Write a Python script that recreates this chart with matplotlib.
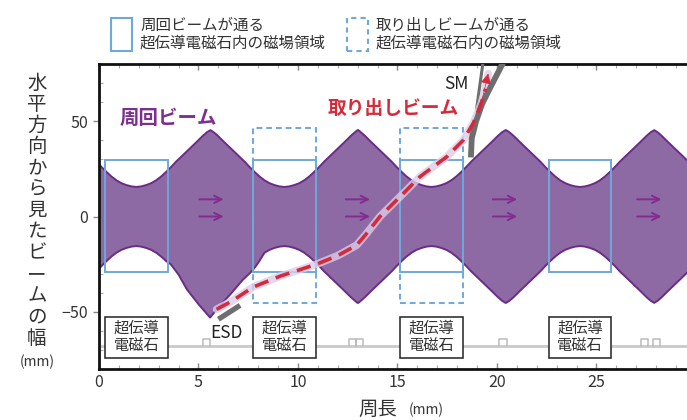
import numpy as np
import matplotlib
matplotlib.use('Agg')
import matplotlib.pyplot as plt
from matplotlib.patches import Rectangle
from matplotlib.ticker import MultipleLocator

plt.rcParams['font.family'] = ['Noto Sans CJK JP', 'DejaVu Sans']

# superconducting magnets along the circumference
magnet_left = [0.30, 7.74, 15.13, 22.60]
magnet_width = 3.15
field_span = [-29.0, 29.5]          # circulating beam field region
extract_span = [-45.6, 46.3]        # extraction beam field region
extract_magnets = [1, 2]
magnet_label_span = [-74.0, -52.5]

# circulating beam half-width vs distance from magnet centre
profile_d = [0.0, 0.25, 0.5, 0.75, 1.0, 1.25, 1.5, 1.75, 2.0, 2.5, 3.0, 3.35, 3.55, 3.72]
profile_hw = [15.5, 15.8, 16.5, 17.5, 19.0, 21.0, 23.4, 26.0, 28.8, 33.8, 38.8, 42.4, 44.2, 45.3]
cell_centres = [1.875, 9.315, 16.705, 24.175, 31.62]

# lower edge of the circulating beam next to the ESD
esd_edge_x = [3.6, 4.0, 4.42, 5.0, 5.58, 6.1, 6.67, 7.2, 7.6, 7.85, 8.05]
esd_edge_y = [-25.0, -30.5, -38.3, -46.0, -53.0, -46.5, -40.0, -33.5, -29.5, -26.5, -23.5]

# extracted beam trajectory
extract_x = [5.91, 6.67, 7.75, 9.10, 10.94, 12.00, 12.95, 13.40, 14.12, 15.13,
             16.13, 17.47, 18.30, 18.81, 19.20, 19.42, 19.56]
extract_y = [-48.7, -44.4, -37.0, -31.3, -25.0, -20.5, -15.0, -9.5, 0.0, 10.4,
             20.9, 31.3, 40.0, 49.0, 59.0, 67.0, 75.0]

# septum magnet walls and electrostatic deflector
sm_outer_x = [18.69, 18.73, 18.95, 19.25, 19.63, 20.15, 20.32]
sm_outer_y = [31.0, 41.0, 50.0, 59.0, 67.0, 77.5, 81.0]
sm_inner_x = [18.97, 19.10, 19.30]
sm_inner_y = [56.0, 66.0, 81.0]
esd_x = [6.0, 7.09]
esd_y = [-53.9, -46.6]

# direction arrows
arrow_start = [4.90, 12.26, 19.65, 26.90]
arrow_len = 1.5
arrow_levels = [9.0, 0.0]

# beamline sketch in the background
beamline_y = -68.0
beamline_bumps = [5.4, 12.75, 13.1, 20.3, 27.4, 28.0]

purple_fill = '#8e6aa4'
purple_edge = '#6a2c86'
blue = '#6fa8dc'
red = '#d62a3a'
grey = '#6e6e6e'
text_col = '#333333'

fig = plt.figure(figsize=(6.87, 4.2), dpi=100)
ax = fig.add_axes([0.1441, 0.1214, 0.869, 0.7262])
ax.set_xlim(0, 30)
ax.set_ylim(-80, 80)

# background beamline
ax.axhline(beamline_y, color='#cdc9c9', lw=2, zorder=1)
for b in beamline_bumps:
    ax.plot([b - 0.18, b - 0.18, b + 0.18, b + 0.18],
            [beamline_y, beamline_y + 3.5, beamline_y + 3.5, beamline_y],
            color='#bdb9b9', lw=1.1, zorder=1)

# circulating beam envelope
env_x, env_hw = [], []
for c in cell_centres:
    for d, h in zip(profile_d[::-1], profile_hw[::-1]):
        env_x.append(c - d)
        env_hw.append(h)
    for d, h in zip(profile_d[1:], profile_hw[1:]):
        env_x.append(c + d)
        env_hw.append(h)
env_x = np.array(env_x)
env_hw = np.array(env_hw)
order = np.argsort(env_x, kind='stable')
env_x, env_hw = env_x[order], env_hw[order]

upper_x, upper_y = env_x, env_hw
keep = (env_x < esd_edge_x[0] - 0.1) | (env_x > esd_edge_x[-1] + 0.1)
lower_x = np.concatenate([env_x[keep], esd_edge_x])
lower_y = np.concatenate([-env_hw[keep], esd_edge_y])
order = np.argsort(lower_x, kind='stable')
lower_x, lower_y = lower_x[order], lower_y[order]

ax.fill(np.r_[upper_x, lower_x[::-1]], np.r_[upper_y, lower_y[::-1]],
        color=purple_fill, lw=0, zorder=2)
ax.plot(upper_x, upper_y, color=purple_edge, lw=1.4, zorder=2.5)
ax.plot(lower_x, lower_y, color=purple_edge, lw=1.4, zorder=2.5)

# magnet field regions
for i, left in enumerate(magnet_left):
    ax.add_patch(Rectangle((left, field_span[0]), magnet_width, field_span[1] - field_span[0],
                           fill=False, ec=blue, lw=1.4, zorder=3))
    if i in extract_magnets:
        ax.add_patch(Rectangle((left, extract_span[0]), magnet_width,
                               extract_span[1] - extract_span[0],
                               fill=False, ec=blue, lw=1.4, ls=(0, (3, 2)), zorder=3))
    ax.add_patch(Rectangle((left, magnet_label_span[0]), magnet_width,
                           magnet_label_span[1] - magnet_label_span[0],
                           fc='white', ec='#222222', lw=1.1, zorder=4))
    ax.text(left + magnet_width / 2, sum(magnet_label_span) / 2, '超伝導\n電磁石',
            ha='center', va='center', fontsize=11, color=text_col,
            linespacing=1.05, zorder=5)

# beam direction arrows
for xs in arrow_start:
    for lv in arrow_levels:
        ax.annotate('', xy=(xs + arrow_len, lv), xytext=(xs, lv),
                    arrowprops=dict(arrowstyle='->', color='#822c8c', lw=1.4,
                                    mutation_scale=13), zorder=4)

# extracted beam
ax.plot(extract_x, extract_y, color='#dccdea', lw=5.5, alpha=0.8,
        solid_capstyle='round', zorder=6)
ax.plot(extract_x[:-1], extract_y[:-1], color=red, lw=2.6, dashes=(4, 2.2), zorder=7)
ax.annotate('', xy=(extract_x[-1], extract_y[-1]), xytext=(extract_x[-3], extract_y[-3]),
            arrowprops=dict(arrowstyle='-|>', color=red, lw=0.5, mutation_scale=16,
                            shrinkA=0, shrinkB=0), zorder=7)

# septum and deflector
ax.plot(sm_outer_x, sm_outer_y, color=grey, lw=4.2, solid_capstyle='butt', zorder=6)
ax.plot(sm_inner_x, sm_inner_y, color=grey, lw=2.2, solid_capstyle='butt', zorder=5.5)
ax.plot(esd_x, esd_y, color=grey, lw=3.8, solid_capstyle='butt', zorder=6)

ax.text(3.49, 51.3, '周回ビーム', color='#7b2f8e', fontsize=14, fontweight='bold',
        ha='center', va='center', zorder=8)
ax.text(14.77, 56.6, '取り出しビーム', color=red, fontsize=13.5, fontweight='bold',
        ha='center', va='center', zorder=8)
ax.text(17.94, 69.6, 'SM', color='#222222', fontsize=12.5, ha='center', va='center', zorder=8)
ax.text(6.42, -60.9, 'ESD', color='#222222', fontsize=12.5, ha='center', va='center', zorder=8)

# axes styling
for side in ['left', 'top', 'bottom']:
    ax.spines[side].set_linewidth(2)
    ax.spines[side].set_color('#111111')
ax.spines['right'].set_visible(False)
ax.set_xticks([0, 5, 10, 15, 20, 25])
ax.set_yticks([-50, 0, 50])
ax.xaxis.set_minor_locator(MultipleLocator(1))
ax.yaxis.set_minor_locator(MultipleLocator(10))
ax.tick_params(axis='both', which='major', labelsize=11.5, labelcolor=text_col,
               color='#888888', length=4, width=1)
ax.tick_params(axis='x', which='both', direction='in', top=True)
ax.tick_params(axis='y', which='major', direction='out', pad=4)
ax.tick_params(axis='y', which='minor', direction='in')
ax.tick_params(which='minor', color='#aaaaaa', length=3, width=0.8)

# y label, written vertically one character at a time
ylabel = '水平方向から見たビームの幅'
for i, ch in enumerate(ylabel):
    fig.text(37 / 687, 1 - (83 + i * 21.25) / 420, ch, fontsize=14, color=text_col,
             ha='center', va='center')
fig.text(37 / 687, 1 - 362 / 420, '(mm)', fontsize=10, color=text_col, ha='center', va='center')

fig.text(378 / 687, 1 - 409 / 420, '周長', fontsize=14, color=text_col, ha='center', va='center')
fig.text(426 / 687, 1 - 410 / 420, '(mm)', fontsize=10, color=text_col, ha='center', va='center')

# legend at the top
legend_items = [('周回ビームが通る', False), ('取り出しビームが通る', True)]
legend_icon_x = [110.7, 346.7]
legend_text_x = [140, 376]
for (first_line, dashed), ix, tx in zip(legend_items, legend_icon_x, legend_text_x):
    fig.patches.append(Rectangle((ix / 687, 1 - 50.7 / 420), 21 / 687, 32.4 / 420,
                                 transform=fig.transFigure, fill=False, ec=blue, lw=1.5,
                                 ls=(0, (2.5, 2)) if dashed else '-'))
    fig.text(tx / 687, 1 - 25 / 420, first_line, fontsize=11.2, color=text_col, va='center')
    fig.text(tx / 687, 1 - 43.3 / 420, '超伝導電磁石内の磁場領域', fontsize=11.2,
             color=text_col, va='center')

fig.savefig('out.png', dpi=100)
